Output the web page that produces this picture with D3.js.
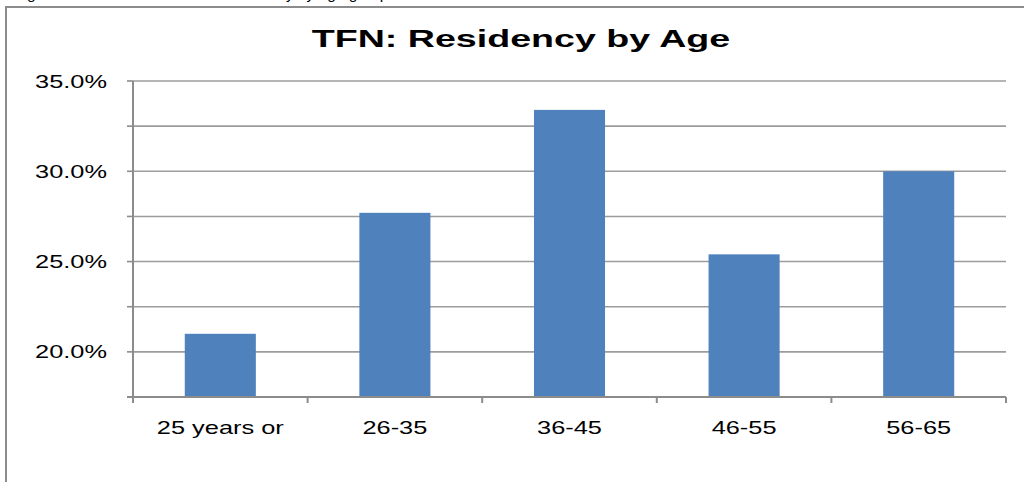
<!DOCTYPE html>
<html lang="en">
<head>
    <meta charset="UTF-8">
    <title>TFN: Residency by Age</title>
    <style>
        body {
            margin: 0;
            padding: 0;
            background-color: #ffffff;
            font-family: 'Liberation Sans', Arial, sans-serif;
        }
        svg {
            display: block;
        }
    </style>
</head>
<body>
    <svg width="1024" height="482"></svg>
    <script src="https://d3js.org/d3.v7.min.js"></script>
    <script>
        const categories = ["25 years or", "26-35", "36-45", "46-55", "56-65"];
        const values = [21.0, 27.7, 33.4, 25.4, 30.0];
        const gridTicks = [17.5, 20, 22.5, 25, 27.5, 30, 32.5, 35];
        const labelTicks = [20, 25, 30, 35];

        const svg = d3.select("svg");
        const margin = {top: 81, right: 18, bottom: 85, left: 133};
        const width = 1024 - margin.left - margin.right;
        const height = 482 - margin.top - margin.bottom;

        // text in the original is wider than normal
        const stretch = 1.45;

        // caption above the frame, mostly cut off like in the original
        svg.append("text")
            .attr("transform", "translate(14, -1)")
            .attr("font-size", "15.5px")
            .attr("fill", "#000")
            .text("Figure 12: Distribution of TFN Residency by age group");

        // outer frame (left and top edges visible)
        svg.append("path")
            .attr("d", "M6,482 L6,7 L1024,7")
            .attr("fill", "none")
            .attr("stroke", "#8c8c8c")
            .attr("stroke-width", 2);

        svg.append("text")
            .attr("transform", "translate(521, 47) scale(1.6, 1)")
            .attr("text-anchor", "middle")
            .attr("font-size", "23.5px")
            .attr("font-weight", "bold")
            .attr("fill", "#000")
            .text("TFN: Residency by Age");

        const chart = svg.append("g").attr("transform", `translate(${margin.left}, ${margin.top})`);

        const y = d3.scaleLinear().domain([17.5, 35]).range([height, 0]);
        const x = d3.scaleBand().domain(categories).range([0, width]).paddingInner(0.593).paddingOuter(0.2965);
        const edges = d3.scaleLinear().domain([0, categories.length]).range([0, width]);

        // gridlines
        chart.selectAll(".grid")
            .data(gridTicks.filter(d => d > 17.5))
            .enter()
            .append("line")
            .attr("x1", 0)
            .attr("x2", width)
            .attr("y1", d => y(d))
            .attr("y2", d => y(d))
            .attr("stroke", "#9c9c9c")
            .attr("stroke-width", 1.6);

        // y ticks
        chart.selectAll(".ytick")
            .data(gridTicks)
            .enter()
            .append("line")
            .attr("x1", -6)
            .attr("x2", 0)
            .attr("y1", d => y(d))
            .attr("y2", d => y(d))
            .attr("stroke", "#8c8c8c")
            .attr("stroke-width", 1.6);

        chart.selectAll(".ylabel")
            .data(labelTicks)
            .enter()
            .append("text")
            .attr("transform", d => `translate(-26, ${y(d) + 6.5}) scale(${stretch}, 1)`)
            .attr("text-anchor", "end")
            .attr("font-size", "17.5px")
            .attr("fill", "#000")
            .text(d => d.toFixed(1) + "%");

        // bars
        chart.selectAll("rect")
            .data(values)
            .enter()
            .append("rect")
            .attr("x", (d, i) => x(categories[i]))
            .attr("y", d => y(d))
            .attr("width", x.bandwidth())
            .attr("height", d => height - y(d))
            .attr("fill", "#4f81bd");

        // axes
        chart.append("line")
            .attr("x1", 0).attr("x2", 0)
            .attr("y1", 0).attr("y2", height)
            .attr("stroke", "#8c8c8c")
            .attr("stroke-width", 2);
        chart.append("line")
            .attr("x1", -6).attr("x2", width)
            .attr("y1", height).attr("y2", height)
            .attr("stroke", "#8c8c8c")
            .attr("stroke-width", 2);

        chart.selectAll(".xtick")
            .data(d3.range(categories.length + 1))
            .enter()
            .append("line")
            .attr("x1", d => edges(d))
            .attr("x2", d => edges(d))
            .attr("y1", height)
            .attr("y2", height + 6)
            .attr("stroke", "#8c8c8c")
            .attr("stroke-width", 2);

        chart.selectAll(".xlabel")
            .data(categories)
            .enter()
            .append("text")
            .attr("transform", d => `translate(${x(d) + x.bandwidth() / 2}, ${height + 37}) scale(${stretch}, 1)`)
            .attr("text-anchor", "middle")
            .attr("font-size", "17.5px")
            .attr("fill", "#000")
            .text(d => d);
    </script>
</body>
</html>
